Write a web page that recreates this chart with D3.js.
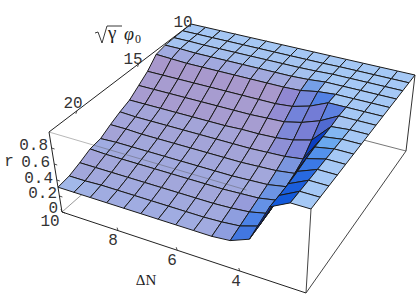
<!DOCTYPE html>
<html><head><meta charset="utf-8">
<script src="https://cdn.jsdelivr.net/npm/d3@7"></script>
<style>html,body{margin:0;background:#fff}svg{display:block}</style></head>
<body><svg id="c" width="416" height="305"></svg>
<script>
const dNValues = [10,9.43,8.86,8.29,7.71,7.14,6.57,6,5.43,4.86,4.29,3.71,3.14,2.57,2];
const phiValues = [10,10.86,11.71,12.57,13.43,14.29,15.14,16,16.86,17.71,18.57,19.43,20.29,21.14,22];
const rRow0 = [1,1,1,1,1,1,1,1,1,1,1,1,1,1,1];
const rRow1 = [.995,.995,.995,.995,.995,.995,.995,.995,.995,.995,1,1,1,1,1];
const rRow2 = [.99,.99,.985,.985,.985,.985,.985,.985,.985,.99,1,1,1,1,1];
const rRow3 = [.98,.98,.97,.97,.97,.97,.97,.97,.97,.98,1,1,1,1,1];
const rRow4 = [.95,.94,.93,.93,.93,.93,.93,.93,.93,.94,.98,1,1,1,1];
const rRow5 = [.82,.82,.82,.82,.82,.82,.82,.82,.82,.84,.90,1,1,1,1];
const rRow6 = [.73,.73,.73,.73,.73,.73,.73,.73,.74,.75,.80,.88,1,1,1];
const rRow7 = [.64,.64,.64,.64,.64,.64,.64,.65,.65,.66,.69,.75,.98,1,1];
const rRow8 = [.59,.58,.58,.58,.58,.58,.58,.58,.58,.59,.60,.63,.97,1,1];
const rRow9 = [.53,.53,.52,.52,.52,.52,.52,.52,.52,.53,.54,.57,.96,1,1];
const rRow10 = [.46,.47,.47,.47,.47,.47,.47,.47,.47,.48,.49,.53,.94,1,1];
const rRow11 = [.44,.43,.43,.43,.43,.43,.43,.43,.43,.44,.45,.49,.91,1,1];
const rRow12 = [.38,.38,.38,.38,.38,.38,.38,.38,.38,.39,.41,.46,.89,1,1];
const rRow13 = [.33,.33,.34,.34,.34,.34,.34,.34,.34,.35,.37,.44,.88,1,1];
const rRow14 = [.31,.31,.31,.31,.31,.31,.31,.31,.31,.31,.33,.42,.88,1,1];
const rGrid = [rRow0,rRow1,rRow2,rRow3,rRow4,rRow5,rRow6,rRow7,rRow8,rRow9,rRow10,rRow11,rRow12,rRow13,rRow14];
const rTicks = [0,.2,.4,.6,.8];
const dNTicks = [10,8,6,4];
const phiTicks = [20,15,10];

const U = d3.scaleLinear().domain([10,2]).range([0,1]);
const V = d3.scaleLinear().domain([22,10]).range([0,1]);
const W = d3.scaleLinear().domain([0,1]).range([0,1]);

function homography(q){
  const [[x0,y0],[x1,y1],[x2,y2],[x3,y3]] = q;
  const dx1=x1-x2,dx2=x3-x2,sx=x0-x1+x2-x3,dy1=y1-y2,dy2=y3-y2,sy=y0-y1+y2-y3;
  const d=dx1*dy2-dx2*dy1;
  const g=(sx*dy2-dx2*sy)/d,h=(dx1*sy-sx*dy1)/d;
  const a=x1-x0+g*x1,b=x3-x0+h*x3,e=y1-y0+g*y1,f=y3-y0+h*y3;
  return (u,v)=>{const w=g*u+h*v+1;return [(a*u+b*v+x0)/w,(e*u+f*v+y0)/w];};
}
const floorH = homography([[62,212],[306,293],[406,151],[194,96]]);
const topH = homography([[49,132],[311,209],[415,75],[191,24]]);
function project(dN,phi,r){
  const u=U(dN),v=V(phi),w=W(r);
  const a=floorH(u,v),b=topH(u,v);
  return [a[0]+(b[0]-a[0])*w,a[1]+(b[1]-a[1])*w];
}
const svg=d3.select('#c');
const line=(p,q,col,sw)=>svg.append('line').attr('x1',p[0]).attr('y1',p[1]).attr('x2',q[0]).attr('y2',q[1]).attr('stroke',col).attr('stroke-width',sw);

const P={a0:project(10,22,0),b0:project(2,22,0),c0:project(2,10,0),d0:project(10,10,0),
         a1:project(10,22,1),b1:project(2,22,1),c1:project(2,10,1),d1:project(10,10,1)};
line(P.a0,P.d0,'#999',1); line(P.c0,P.d0,'#777',1);
line(P.c1,P.c0,'#333',1);

const descR=d3.scaleLinear().domain([0,.008,.03,.1,.2]).range([165,165,160,168,168]).clamp(true);
const descG=d3.scaleLinear().domain([0,.008,.03,.1,.2]).range([200,198,172,153,150]).clamp(true);
const descB=d3.scaleLinear().domain([0,.008,.03,.1,.2]).range([245,243,225,205,200]).clamp(true);
const riseW=d3.scaleLinear().domain([0,.012,.03,.06]).range([0,0,.7,1]).clamp(true);
const riseCol=d3.scaleLinear().domain([0,.03,.06,.12,.3,.6]).range(['#82bef5','#5aa5f0','#3c82eb','#145ada','#0a3cc0','#0a1f9a']).clamp(true);
const descW=d3.scaleLinear().domain([0,.115]).range([0,.8]).clamp(true);
function faceColor(j,i){
  const g=rGrid;
  const desc=((g[j][i]+g[j][i+1])-(g[j+1][i]+g[j+1][i+1]))/2;
  const rise=((g[j][i+1]-g[j][i])+(g[j+1][i+1]-g[j+1][i]))/2;
  const base=d3.rgb(descR(desc),descG(desc),descB(desc));
  let col=d3.interpolateRgb(base,riseCol(rise))(riseW(rise));
  if(rise<.2) { if(riseW(rise)>0) col=d3.interpolateRgb(col,'#8a80d2')(descW(desc)); }
  return col;
}
const path=d3.line();
for(let j=0;j<phiValues.length-1;j++){
  for(let i=0;i<dNValues.length-1;i++){
    const pts=[[j,i],[j,i+1],[j+1,i+1],[j+1,i]].map(([b,a])=>project(dNValues[a],phiValues[b],rGrid[b][a]));
    svg.append('path').attr('d',path(pts)+'Z').attr('fill',faceColor(j,i))
       .attr('stroke','#1a1a1a').attr('stroke-width',1).attr('stroke-linejoin','round');
  }
}
line(P.a1,project(3.8,22,1),'#555',.7).attr('stroke-opacity',.6);
line(P.a1,P.d1,'#222',1);
line(P.a1,P.a0,'#222',1);
line(P.b1,P.b0,'#444',1);
line(P.a0,P.b0,'#222',1);
line(P.b0,P.c0,'#444',1);

const mono=(s,x,y,anchor)=>svg.append('text').attr('x',x).attr('y',y).attr('text-anchor',anchor||'middle')
  .attr('font-family','"Liberation Mono"').attr('font-size',16).attr('fill','#333').text(s);
const rLabelX=[58,57,53,50,48], rLabelY=[213,198,183,167,150];
rTicks.forEach((t,k)=>{
  const p=project(10,22,t); line(p,[p[0]+3,p[1]+1],'#222',.8);
  mono(k===0?'0':d3.format('.1f')(t),rLabelX[k],rLabelY[k],'end');
});
const dNLabel=[[50,226],[113,245],[172,265],[236,286]];
dNTicks.forEach((t,k)=>{
  const p=project(t,22,0); line(p,[p[0]-1,p[1]-3],'#222',.8);
  mono(String(t),dNLabel[k][0],dNLabel[k][1]);
});
const phiLabel=[[73,108],[133,64],[183,27]];
phiTicks.forEach((t,k)=>{
  const p=project(10,t,1); line(p,[p[0]-1,p[1]+3],'#222',.8);
  mono(String(t),phiLabel[k][0],phiLabel[k][1]);
});
mono('r',9,166);
svg.append('text').attr('x',146).attr('y',285).attr('text-anchor','middle')
   .attr('font-family','"Liberation Serif"').attr('font-size',15).attr('fill','#222').text('ΔN');
svg.append('path').attr('d','M95,33 L98,32 L102,43 L107,26 L122,26').attr('fill','none').attr('stroke','#222').attr('stroke-width',.9);
svg.append('text').attr('x',108).attr('y',39).attr('font-family','"Liberation Serif"').attr('font-size',19).attr('fill','#222').text('γ');
svg.append('text').attr('x',124).attr('y',40).attr('font-family','"Liberation Serif"').attr('font-style','italic').attr('font-size',18).attr('fill','#222').text('φ');
svg.append('text').attr('x',135).attr('y',43).attr('font-family','"Liberation Serif"').attr('font-size',12).attr('fill','#222').text('0');
</script></body></html>
